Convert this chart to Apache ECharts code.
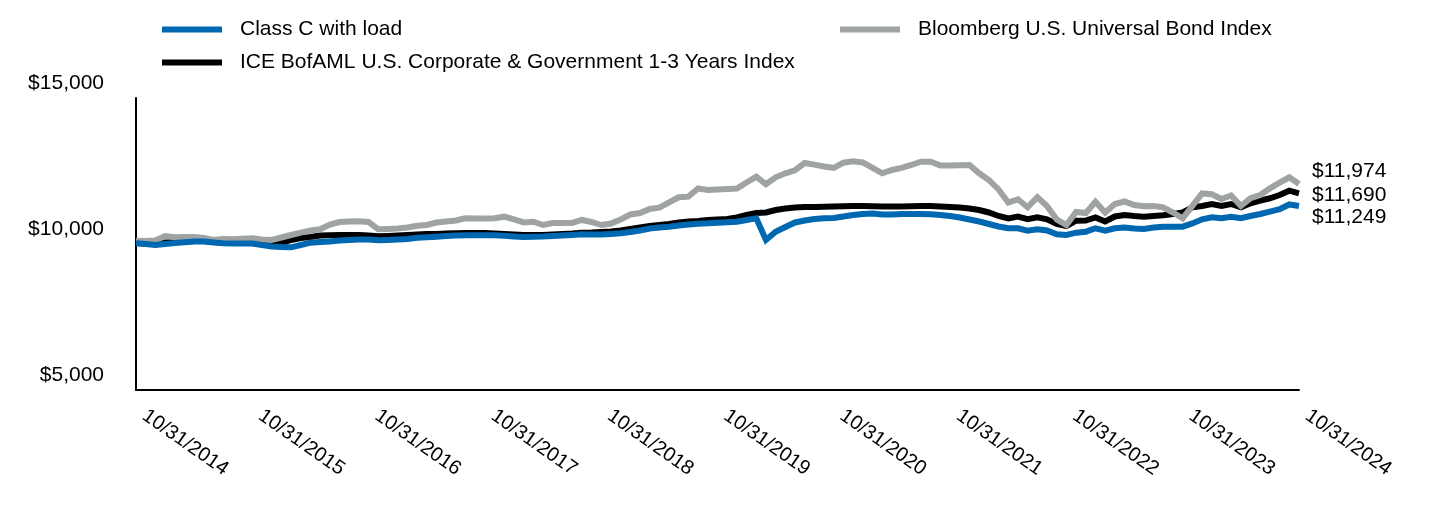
<!DOCTYPE html>
<html>
<head>
<meta charset="utf-8">
<script src="https://cdn.jsdelivr.net/npm/echarts@6/dist/echarts.min.js"></script>
<style>
html,body{margin:0;padding:0;background:#fff;}
#chart{width:1440px;height:516px;}
</style>
</head>
<body>
<div id="chart"></div>
<script>
// ---- data (monthly, 10/31/2014 .. 10/31/2024) ----
const seriesNames = ['Class C with load', 'ICE BofAML U.S. Corporate & Government 1-3 Years Index', 'Bloomberg U.S. Universal Bond Index'];
const classC = [9525,9500,9466,9500,9535,9559,9586,9586,9552,9525,9518,9518,9518,9466,9415,9398,9387,9466,9545,9569,9586,9620,9638,9655,9655,9627,9638,9655,9672,9716,9730,9750,9775,9792,9798,9798,9798,9798,9781,9757,9740,9750,9757,9775,9792,9809,9833,9826,9826,9843,9867,9911,9963,10031,10066,10093,10134,10168,10196,10209,10230,10244,10264,10323,10381,9638,9922,10083,10237,10305,10357,10381,10391,10442,10494,10528,10545,10511,10511,10528,10528,10528,10518,10494,10460,10408,10340,10271,10186,10100,10038,10038,9956,10004,9963,9833,9809,9888,9922,10038,9956,10038,10066,10031,10014,10066,10093,10093,10093,10203,10346,10415,10381,10436,10381,10460,10528,10607,10689,10854,10802];
const iceIndex = [9535,9518,9500,9552,9569,9586,9603,9603,9569,9552,9535,9535,9535,9500,9483,9535,9638,9706,9740,9792,9798,9809,9809,9809,9792,9764,9775,9792,9809,9826,9843,9843,9860,9867,9877,9877,9877,9860,9843,9826,9809,9809,9809,9826,9843,9860,9888,9894,9911,9928,9963,10014,10066,10117,10151,10186,10237,10271,10288,10323,10340,10357,10408,10494,10562,10579,10665,10716,10750,10768,10768,10778,10785,10792,10802,10802,10792,10785,10785,10785,10792,10802,10802,10785,10768,10750,10716,10665,10579,10460,10374,10436,10347,10415,10347,10186,10117,10299,10305,10408,10271,10442,10494,10460,10436,10460,10484,10528,10579,10757,10802,10870,10802,10870,10757,10894,10983,11066,11179,11326,11237];
const bbgIndex = [9614,9603,9620,9775,9730,9740,9740,9706,9638,9672,9661,9682,9696,9655,9638,9723,9809,9888,9963,10004,10168,10254,10271,10278,10254,10004,10014,10031,10066,10127,10151,10237,10271,10305,10381,10374,10374,10381,10436,10340,10237,10264,10151,10220,10220,10220,10323,10254,10151,10203,10340,10511,10562,10699,10744,10922,11100,11121,11401,11350,11367,11384,11401,11607,11806,11545,11785,11922,12025,12275,12217,12155,12104,12285,12333,12292,12104,11922,12035,12104,12206,12319,12319,12189,12189,12196,12206,11922,11693,11367,10922,11031,10757,11100,10802,10340,10151,10596,10562,10949,10579,10870,10956,10836,10792,10802,10757,10579,10381,10802,11230,11203,11042,11162,10802,11066,11179,11408,11600,11785,11556];
const endLabels = ['$11,249', '$11,690', '$11,974'];
const yTickValues = [5000, 10000, 15000];
const startYear = 2014;

// categories: month-end dates
const categories = [];
for (let i = 0; i < classC.length; i++) {
  const m = 10 + i;
  const y = startYear + Math.floor((m - 1) / 12);
  const mo = ((m - 1) % 12) + 1;
  const last = new Date(y, mo, 0).getDate();
  categories.push(mo + '/' + last + '/' + y);
}

const FONT = 'Arial, "Liberation Sans", Helvetica, sans-serif';
const colors = {c: '#0067b1', ice: '#000000', bbg: '#a0a3a3'};

const chart = echarts.init(document.getElementById('chart'), null, {renderer: 'canvas'});
const fmtMoney = v => '$' + v.toLocaleString('en-US');

const option = {
  animation: false,
  backgroundColor: '#ffffff',
  textStyle: {fontFamily: FONT, color: '#000'},
  legend: [
    {
      left: 162, top: 19, orient: 'vertical', itemGap: 12, padding: 0,
      itemWidth: 60, itemHeight: 6, icon: 'rect',
      textStyle: {fontFamily: FONT, fontSize: 21, color: '#000', padding: [0, 0, 0, 13]},
      data: [seriesNames[0], seriesNames[1]]
    },
    {
      left: 840, top: 19, orient: 'vertical', padding: 0,
      itemWidth: 60, itemHeight: 6, icon: 'rect',
      textStyle: {fontFamily: FONT, fontSize: 21, color: '#000', padding: [0, 0, 0, 13]},
      data: [seriesNames[2]]
    }
  ],
  grid: [
    {left: 136, right: 141, top: 98, bottom: 126, containLabel: false},
    {left: 136, right: 141, top: 83.4, bottom: 126, containLabel: false}
  ],
  xAxis: [
    {
      type: 'category', gridIndex: 0, data: categories, boundaryGap: false,
      axisLine: {show: true, lineStyle: {color: '#000', width: 2}},
      axisTick: {show: false},
      axisLabel: {
        interval: 11, rotate: -35, margin: 18, padding: [0, 0, 0, 10],
        fontFamily: FONT, fontSize: 20, color: '#000',
        formatter: v => v
      },
      splitLine: {show: false}
    },
    {type: 'category', gridIndex: 1, data: categories, boundaryGap: false, show: false}
  ],
  yAxis: [
    {
      type: 'value', gridIndex: 0, min: 4500, max: 14500,
      axisLine: {show: true, lineStyle: {color: '#000', width: 2}},
      axisTick: {show: false}, axisLabel: {show: false}, splitLine: {show: false}
    },
    {
      type: 'value', gridIndex: 1, min: 4500, max: 15000,
      axisLine: {show: false}, axisTick: {show: false}, splitLine: {show: false},
      axisLabel: {
        show: true, customValues: yTickValues, margin: 32,
        fontFamily: FONT, fontSize: 21, color: '#000', formatter: fmtMoney
      }
    }
  ],
  series: [
    {
      name: seriesNames[1], type: 'line', data: iceIndex, xAxisIndex: 0, yAxisIndex: 0,
      showSymbol: false, symbol: 'none', z: 2,
      lineStyle: {color: colors.ice, width: 6, join: 'miter'}, itemStyle: {color: colors.ice},
      endLabel: {show: true, formatter: () => endLabels[1], distance: 13, offset: [0, 2],
        fontFamily: FONT, fontSize: 21, color: '#000'}
    },
    {
      name: seriesNames[2], type: 'line', data: bbgIndex, xAxisIndex: 0, yAxisIndex: 0,
      showSymbol: false, symbol: 'none', z: 3,
      lineStyle: {color: colors.bbg, width: 6, join: 'miter'}, itemStyle: {color: colors.bbg},
      endLabel: {show: true, formatter: () => endLabels[2], distance: 13, offset: [0, -13],
        fontFamily: FONT, fontSize: 21, color: '#000'}
    },
    {
      name: seriesNames[0], type: 'line', data: classC, xAxisIndex: 0, yAxisIndex: 0,
      showSymbol: false, symbol: 'none', z: 4,
      lineStyle: {color: colors.c, width: 6, join: 'miter'}, itemStyle: {color: colors.c},
      endLabel: {show: true, formatter: () => endLabels[0], distance: 13, offset: [0, 11],
        fontFamily: FONT, fontSize: 21, color: '#000'}
    }
  ]
};
chart.setOption(option);
</script>
</body>
</html>
